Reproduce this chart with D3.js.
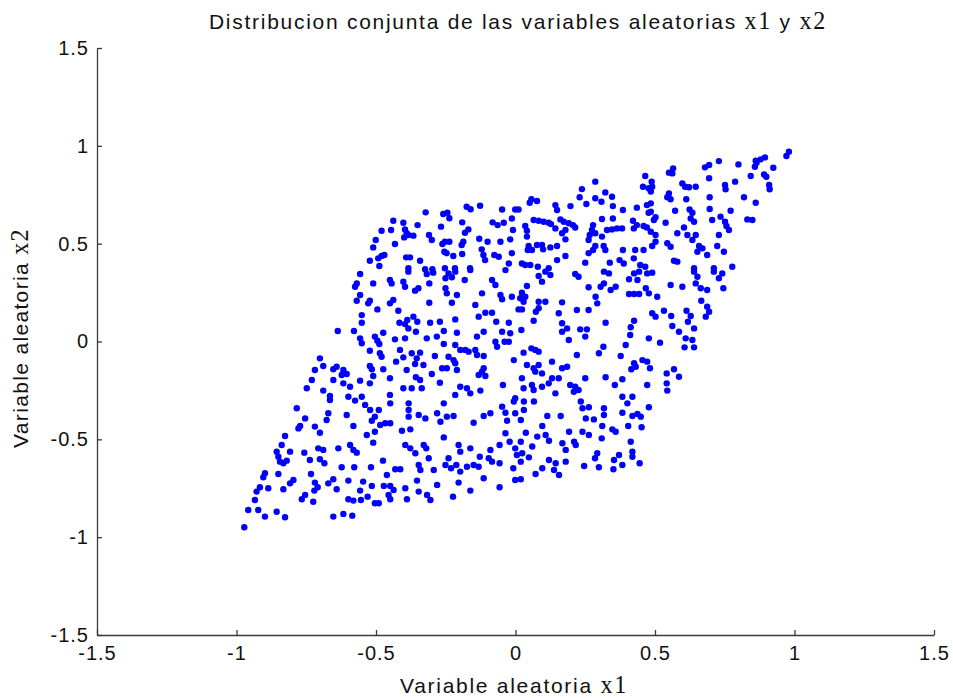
<!DOCTYPE html>
<html><head><meta charset="utf-8">
<script src="https://cdn.jsdelivr.net/npm/d3@7"></script>
<style>body{margin:0;background:#fff;} svg{display:block}</style>
</head><body><svg id="chart" width="953" height="698"></svg>
<script>
const titleParts = [["Distribucion conjunta de las variables aleatorias ","sans"],["x1","serif"],[" y ","sans"],["x2","serif"]];
const xLabelParts = [["Variable aleatoria ","sans"],["x1","serif"]];
const yLabelParts = [["Variable aleatoria ","sans"],["x2","serif"]];
const xTicks = [-1.5,-1,-0.5,0,0.5,1,1.5];
const yTicks = [-1.5,-1,-0.5,0,0.5,1,1.5];
const xTickLabels = ["-1.5","-1","-0.5","0","0.5","1","1.5"];
const yTickLabels = ["-1.5","-1","-0.5","0","0.5","1","1.5"];
// samples of (x1, x2)
const samples = [
[-0.127,0.694],[-0.175,0.689],[-0.161,0.676],[-0.322,0.660],[-0.259,0.652],[-0.244,0.658],[-0.237,0.630],[-0.438,0.617],[-0.402,0.607],[-0.191,0.609],[-0.082,0.609],[-0.351,0.595],[-0.480,0.566],[-0.446,0.570],[-0.396,0.573],[-0.390,0.553],[-0.267,0.587],[-0.169,0.573],[-0.181,0.556],[-0.310,0.544],[-0.300,0.519],[-0.366,0.541],[-0.399,0.532],[-0.384,0.544],[-0.501,0.519],[-0.432,0.498],[-0.253,0.510],[-0.237,0.510],[-0.262,0.498],[-0.187,0.510],[-0.193,0.493],[-0.130,0.525],[-0.100,0.510],[-0.510,0.481],[-0.121,0.471],[-0.115,0.442],[-0.109,0.416],[-0.076,0.442],[-0.255,0.459],[-0.247,0.451],[-0.223,0.437],[-0.191,0.447],[-0.480,0.437],[-0.470,0.442],[-0.492,0.425],[-0.392,0.430],[-0.378,0.430],[-0.342,0.413],[-0.522,0.413],[-0.488,0.386],[-0.384,0.374],[-0.324,0.369],[-0.298,0.369],[-0.253,0.374],[-0.217,0.374],[-0.163,0.374],
[0.286,0.817],[0.465,0.846],[0.457,0.791],[0.477,0.783],[0.238,0.779],[0.322,0.762],[0.346,0.740],[0.230,0.737],[0.254,0.703],[0.286,0.732],[0.308,0.714],[0.057,0.727],[0.051,0.709],[0.077,0.718],[0.143,0.697],[0.149,0.672],[0.197,0.692],[0.349,0.692],[0.385,0.672],[0.435,0.684],[0.471,0.697],[0.477,0.658],[-0.048,0.675],[-0.001,0.675],[0.011,0.675],[-0.013,0.629],[-0.042,0.607],[-0.064,0.595],[0.065,0.621],[0.083,0.617],[0.101,0.612],[0.119,0.607],[0.127,0.600],[0.161,0.624],[0.173,0.612],[0.191,0.604],[0.206,0.595],[0.214,0.583],[0.310,0.626],[0.349,0.629],[0.421,0.617],[0.435,0.595],[0.459,0.590],[0.035,0.590],[0.041,0.566],[0.143,0.578],[0.179,0.570],[0.167,0.553],[0.278,0.595],[0.274,0.570],[0.266,0.544],[0.286,0.553],[0.328,0.570],[0.346,0.573],[0.364,0.578],[0.382,0.578],[0.424,0.578],[0.471,0.583],[-0.009,0.570],[0.041,0.536],[0.179,0.522],[0.310,0.536],[0.262,0.519],[-0.054,0.510],[-0.019,0.522],[0.077,0.493],[0.095,0.493],[0.125,0.481],[0.149,0.488],[0.047,0.488],[0.044,0.468],[0.059,0.468],[0.286,0.488],[0.278,0.468],[0.262,0.451],[0.322,0.468],[0.316,0.488],[0.385,0.468],[0.429,0.468],[0.459,0.468],[0.099,0.471],[-0.013,0.451],[-0.060,0.433],[0.179,0.437],[0.149,0.416],[0.250,0.403],[0.338,0.403],[0.373,0.416],[0.388,0.399],[0.424,0.425],[0.023,0.399],[0.035,0.391],[0.053,0.391],[0.080,0.382],[-0.024,0.399],[0.447,0.391],[0.465,0.382],[0.119,0.374],
[0.980,0.970],[0.971,0.948],[0.894,0.941],[0.879,0.931],[0.861,0.924],[0.864,0.914],[0.858,0.893],[0.799,0.905],[0.729,0.922],[0.694,0.902],[0.679,0.890],[0.565,0.885],[0.550,0.863],[0.562,0.859],[0.924,0.888],[0.891,0.854],[0.899,0.842],[0.843,0.846],[0.694,0.834],[0.787,0.817],[0.751,0.800],[0.753,0.778],[0.909,0.800],[0.911,0.778],[0.488,0.817],[0.490,0.791],[0.485,0.766],[0.598,0.808],[0.608,0.791],[0.622,0.788],[0.646,0.791],[0.819,0.737],[0.861,0.709],[0.550,0.757],[0.544,0.737],[0.556,0.727],[0.696,0.737],[0.612,0.727],[0.696,0.677],[0.771,0.668],[0.572,0.668],[0.624,0.675],[0.634,0.658],[0.628,0.629],[0.640,0.612],[0.485,0.706],[0.485,0.663],[0.502,0.635],[0.496,0.621],[0.831,0.624],[0.849,0.621],[0.705,0.621],[0.735,0.638],[0.751,0.612],[0.756,0.590],[0.765,0.570],[0.538,0.607],[0.604,0.583],[0.485,0.561],[0.502,0.544],[0.580,0.553],[0.616,0.544],[0.646,0.544],[0.729,0.544],[0.502,0.510],[0.490,0.488],[0.544,0.502],[0.556,0.484],[0.634,0.519],[0.658,0.488],[0.652,0.459],[0.670,0.476],[0.723,0.488],[0.747,0.459],[0.687,0.442],[0.568,0.413],[0.580,0.408],[0.640,0.374],[0.711,0.374],[0.777,0.382],
[-0.557,0.345],[-0.384,0.357],[-0.450,0.314],[-0.444,0.297],[-0.402,0.306],[-0.396,0.280],[-0.318,0.345],[-0.295,0.352],[-0.309,0.297],[-0.510,0.297],[-0.569,0.297],[-0.575,0.280],[-0.348,0.272],[-0.360,0.260],[-0.557,0.238],[-0.569,0.208],[-0.522,0.208],[-0.528,0.195],[-0.438,0.212],[-0.450,0.195],[-0.309,0.198],[-0.495,0.164],[-0.420,0.157],[-0.551,0.135],[-0.551,0.096],[-0.366,0.127],[-0.388,0.110],[-0.352,0.101],[-0.396,0.089],[-0.416,0.096],[-0.306,0.096],[-0.271,0.101],[-0.384,0.067],[-0.357,0.050],[-0.637,0.054],[-0.579,0.054],[-0.474,0.045],[-0.557,0.016],[-0.551,-0.009],[-0.504,0.025],[-0.495,0.004],[-0.488,-0.013],[-0.432,0.011],[-0.396,0.016],[-0.318,0.016],[-0.282,0.025],[-0.522,-0.047],[-0.486,-0.060],[-0.480,-0.078],[-0.414,-0.043],[-0.402,-0.081],[-0.372,-0.060],[-0.354,-0.086],[-0.342,-0.057],[-0.330,-0.120],[-0.289,-0.074],[-0.701,-0.086],[-0.428,-0.103],[-0.719,-0.146],[-0.689,-0.125],[-0.653,-0.142],[-0.641,-0.129],[-0.617,-0.146],[-0.623,-0.171],[-0.605,-0.166],[-0.522,-0.125],[-0.515,-0.142],[-0.474,-0.142],[-0.360,-0.115],[-0.390,-0.146],[-0.730,-0.197],[-0.653,-0.197],[-0.617,-0.214],[-0.593,-0.231],[-0.557,-0.200],[-0.510,-0.176],[-0.450,-0.188],[-0.357,-0.183],[-0.342,-0.197],[-0.300,-0.166],[-0.522,-0.214],[-0.271,-0.211],[-0.748,-0.239],[-0.689,-0.251],[-0.665,-0.278],[-0.599,-0.282],[-0.551,-0.282],[-0.402,-0.239],[-0.372,-0.239],[-0.336,-0.239],[-0.450,-0.273],
[-0.240,0.348],[-0.216,0.357],[-0.251,0.323],[-0.228,0.328],[-0.162,0.365],[-0.036,0.365],[-0.084,0.314],[-0.072,0.289],[-0.182,0.314],[0.083,0.335],[0.107,0.357],[0.125,0.340],[0.095,0.306],[0.041,0.284],[0.214,0.345],[0.226,0.331],[0.262,0.277],[-0.120,0.246],[-0.054,0.238],[-0.048,0.216],[-0.013,0.229],[0.023,0.249],[0.017,0.221],[0.035,0.229],[0.029,0.203],[-0.210,0.238],[-0.228,0.198],[-0.251,0.272],[-0.246,0.246],[0.083,0.203],[0.107,0.203],[0.167,0.200],[-0.144,0.187],[0.011,0.164],[0.023,0.164],[0.083,0.170],[0.073,0.152],[0.220,0.161],[0.262,0.161],[-0.108,0.147],[-0.084,0.147],[-0.132,0.127],[0.155,0.144],[0.065,0.106],[-0.216,0.113],[-0.024,0.096],[-0.069,0.101],[0.167,0.093],[0.185,0.067],[0.167,0.050],[0.232,0.062],[0.256,0.062],[-0.257,0.054],[-0.210,0.045],[-0.114,0.050],[-0.138,0.025],[-0.048,0.050],[-0.019,0.042],[0.021,0.059],[0.191,0.008],[0.250,0.025],[-0.072,-0.001],[-0.066,-0.027],[-0.039,-0.001],[-0.024,-0.001],[-0.257,-0.013],[-0.216,-0.018],[-0.198,-0.043],[-0.180,-0.043],[-0.168,-0.052],[-0.144,-0.043],[-0.138,-0.069],[-0.114,-0.074],[0.057,-0.035],[0.071,-0.043],[0.083,-0.052],[0.029,-0.057],[0.220,-0.069],[-0.240,-0.078],[-0.222,-0.095],[-0.263,-0.137],[-0.246,-0.137],[-0.216,-0.111],[-0.006,-0.095],[0.041,-0.120],[0.065,-0.137],[0.083,-0.120],[0.131,-0.103],[0.185,-0.129],[0.167,-0.137],[-0.114,-0.137],[-0.120,-0.154],[-0.108,-0.176],[-0.132,-0.171],[-0.210,-0.146],[0.023,-0.188],[0.071,-0.154],[0.095,-0.163],[0.131,-0.188],[0.155,-0.188],[0.119,-0.214],[0.250,-0.188],[-0.045,-0.222],[-0.198,-0.231],[-0.174,-0.239],[-0.162,-0.265],[0.059,-0.222],[0.065,-0.248],[0.029,-0.239],[0.095,-0.231],[0.196,-0.222],[0.214,-0.231],[0.226,-0.248],[0.209,-0.257],[-0.126,-0.251],[-0.216,-0.273],[0.143,-0.265],[-0.001,-0.290],
[0.317,0.357],[0.335,0.348],[0.425,0.348],[0.443,0.357],[0.472,0.348],[0.490,0.352],[0.407,0.318],[0.437,0.314],[0.317,0.297],[0.305,0.280],[0.359,0.280],[0.341,0.263],[0.287,0.229],[0.293,0.195],[0.556,0.289],[0.598,0.280],[0.640,0.357],[0.652,0.331],[0.646,0.297],[0.664,0.272],[0.687,0.263],[0.711,0.357],[0.741,0.348],[0.729,0.323],[0.745,0.272],[0.407,0.243],[0.425,0.243],[0.443,0.243],[0.467,0.272],[0.478,0.246],[0.508,0.229],[0.666,0.208],[0.687,0.178],[0.694,0.152],[0.682,0.127],[0.490,0.144],[0.502,0.127],[0.532,0.157],[0.558,0.130],[0.613,0.157],[0.628,0.130],[0.618,0.101],[0.323,0.096],[0.425,0.106],[0.413,0.073],[0.411,0.033],[0.562,0.079],[0.586,0.050],[0.640,0.067],[0.610,0.016],[0.634,0.008],[0.606,-0.030],[0.640,-0.030],[0.478,0.016],[0.518,-0.006],[0.395,-0.018],[0.315,-0.027],[0.299,-0.060],[0.377,-0.074],[0.425,-0.111],[0.415,-0.142],[0.431,-0.129],[0.455,-0.095],[0.472,-0.103],[0.482,-0.137],[0.542,-0.163],[0.568,-0.142],[0.586,-0.180],[0.323,-0.183],[0.383,-0.193],[0.356,-0.222],[0.472,-0.222],[0.542,-0.214],[0.544,-0.251],[0.383,-0.282],[0.419,-0.282],
[-0.784,-0.341],[-0.754,-0.393],[-0.772,-0.432],[-0.778,-0.444],[-0.719,-0.435],[-0.701,-0.466],[-0.671,-0.367],[-0.677,-0.401],[-0.605,-0.376],[-0.581,-0.432],[-0.665,-0.299],[-0.575,-0.302],[-0.539,-0.324],[-0.521,-0.350],[-0.504,-0.384],[-0.515,-0.405],[-0.533,-0.478],[-0.504,-0.461],[-0.510,-0.517],[-0.826,-0.483],[-0.838,-0.529],[-0.856,-0.563],[-0.850,-0.589],[-0.832,-0.622],[-0.820,-0.609],[-0.844,-0.614],[-0.808,-0.563],[-0.757,-0.568],[-0.737,-0.606],[-0.707,-0.546],[-0.689,-0.554],[-0.701,-0.602],[-0.685,-0.622],[-0.635,-0.546],[-0.593,-0.529],[-0.581,-0.554],[-0.569,-0.568],[-0.898,-0.673],[-0.904,-0.694],[-0.850,-0.677],[-0.733,-0.677],[-0.796,-0.708],[-0.808,-0.725],[-0.623,-0.643],[-0.578,-0.643],[-0.518,-0.643],[-0.653,-0.704],[-0.671,-0.725],[-0.719,-0.721],[-0.709,-0.745],[-0.721,-0.762],[-0.599,-0.711],[-0.546,-0.716],[-0.515,-0.738],[-0.832,-0.755],[-0.641,-0.755],[-0.557,-0.762],[-0.916,-0.745],[-0.928,-0.767],[-0.886,-0.750],[-0.934,-0.810],[-0.754,-0.784],[-0.766,-0.806],[-0.725,-0.819],[-0.599,-0.806],[-0.581,-0.813],[-0.554,-0.810],[-0.530,-0.793],[-0.504,-0.827],[-0.958,-0.861],[-0.922,-0.861],[-0.856,-0.870],[-0.898,-0.895],[-0.826,-0.898],[-0.653,-0.895],[-0.617,-0.881],[-0.585,-0.890],[-0.972,-0.949],
[-0.490,-0.350],[-0.449,-0.316],[-0.383,-0.316],[-0.383,-0.350],[-0.383,-0.384],[-0.347,-0.376],[-0.323,-0.393],[-0.281,-0.367],[-0.257,-0.316],[-0.269,-0.410],[-0.246,-0.384],[-0.222,-0.381],[-0.467,-0.418],[-0.449,-0.418],[-0.485,-0.427],[-0.407,-0.456],[-0.377,-0.449],[-0.150,-0.415],[-0.114,-0.381],[-0.090,-0.367],[-0.048,-0.333],[-0.036,-0.364],[-0.030,-0.405],[-0.006,-0.307],[-0.001,-0.367],[-0.257,-0.490],[-0.036,-0.469],[-0.021,-0.512],[-0.395,-0.529],[-0.377,-0.546],[-0.359,-0.571],[-0.329,-0.529],[-0.320,-0.546],[-0.311,-0.597],[-0.204,-0.529],[-0.198,-0.563],[-0.162,-0.546],[-0.090,-0.554],[-0.057,-0.529],[-0.001,-0.546],[0.005,-0.580],[-0.475,-0.609],[-0.431,-0.653],[-0.413,-0.653],[-0.461,-0.682],[-0.347,-0.631],[-0.341,-0.657],[-0.293,-0.657],[-0.240,-0.597],[-0.251,-0.631],[-0.231,-0.648],[-0.212,-0.631],[-0.198,-0.665],[-0.174,-0.640],[-0.150,-0.631],[-0.132,-0.640],[-0.096,-0.597],[-0.084,-0.614],[-0.057,-0.622],[-0.128,-0.589],[-0.008,-0.648],[-0.114,-0.699],[-0.001,-0.708],[-0.353,-0.711],[-0.472,-0.738],[-0.449,-0.738],[-0.437,-0.759],[-0.455,-0.784],[-0.449,-0.806],[-0.395,-0.750],[-0.281,-0.733],[-0.204,-0.721],[-0.347,-0.767],[-0.317,-0.784],[-0.305,-0.810],[-0.389,-0.806],[-0.162,-0.762],[-0.057,-0.745],[-0.224,-0.793],[-0.490,-0.827],
[0.030,-0.307],[0.066,-0.307],[0.234,-0.307],[0.240,-0.341],[0.263,-0.336],[0.317,-0.341],[0.317,-0.376],[0.401,-0.316],[0.478,-0.336],[0.383,-0.364],[0.419,-0.381],[0.437,-0.370],[0.449,-0.384],[0.452,-0.438],[0.114,-0.381],[0.162,-0.381],[0.252,-0.393],[0.281,-0.398],[0.030,-0.350],[0.019,-0.401],[0.096,-0.432],[0.311,-0.432],[0.347,-0.449],[0.359,-0.461],[0.404,-0.432],[0.037,-0.466],[0.192,-0.461],[0.240,-0.461],[0.263,-0.478],[0.078,-0.486],[0.108,-0.478],[0.120,-0.507],[0.309,-0.495],[0.019,-0.512],[0.413,-0.512],[0.168,-0.520],[0.180,-0.554],[0.210,-0.512],[0.216,-0.529],[0.060,-0.537],[0.024,-0.571],[0.419,-0.563],[0.419,-0.589],[0.048,-0.592],[0.293,-0.571],[0.285,-0.597],[0.371,-0.580],[0.120,-0.606],[0.144,-0.622],[0.180,-0.614],[0.019,-0.614],[0.353,-0.606],[0.351,-0.653],[0.383,-0.631],[0.246,-0.636],[0.299,-0.643],[0.445,-0.622],[0.096,-0.648],[0.072,-0.677],[0.138,-0.657],[0.156,-0.682],[0.019,-0.704]
];
const x1 = samples.map(d => d[0]);
const x2 = samples.map(d => d[1]);

const svg = d3.select("#chart");
const x = d3.scaleLinear().domain([-1.5, 1.5]).range([97, 934]);
const y = d3.scaleLinear().domain([-1.5, 1.5]).range([635, 48]);
const SANS = "'Liberation Sans', Arial, sans-serif";
const SERIF = "'Liberation Serif', 'Times New Roman', serif";
const axisColor = "#3a3a3a";
const tickFont = 20;

// points
svg.append("g").selectAll("circle").data(x1).join("circle")
  .attr("cx", (d, i) => x(x1[i]))
  .attr("cy", (d, i) => y(x2[i]))
  .attr("r", 3.2)
  .attr("fill", "#0000ff");

const gx = svg.append("g").attr("transform", "translate(0,635)")
  .call(d3.axisBottom(x).tickValues(xTicks).tickFormat((d, i) => xTickLabels[i])
    .tickSizeInner(-5).tickSizeOuter(0).tickPadding(11));
const gy = svg.append("g").attr("transform", "translate(97,0)")
  .call(d3.axisLeft(y).tickValues(yTicks).tickFormat((d, i) => yTickLabels[i])
    .tickSizeInner(-5).tickSizeOuter(0).tickPadding(8));
[gx, gy].forEach(g => {
  g.select(".domain").attr("stroke", axisColor).attr("stroke-width", 1.3);
  g.selectAll(".tick line").attr("stroke", axisColor).attr("stroke-width", 1.3);
  g.selectAll(".tick text").attr("fill", "#111").style("font-family", SANS)
    .style("font-size", tickFont + "px").style("letter-spacing", "1px");
});

function mixedText(parent, parts, size, targetWidth) {
  const t = parent.append("text").attr("text-anchor", "middle").attr("fill", "#111")
    .attr("xml:space", "preserve").style("font-size", size + "px");
  parts.forEach(p => t.append("tspan").text(p[0])
    .style("font-family", p[1] === "serif" ? SERIF : SANS)
    .style("font-size", (p[1] === "serif" ? size * 1.15 : size) + "px"));
  const n = parts.reduce((a, p) => a + p[0].length, 0);
  const w = t.node().getComputedTextLength();
  if (targetWidth && n > 1) t.style("letter-spacing", ((targetWidth - w) / n) + "px");
  return t;
}
mixedText(svg, titleParts, 21, 618).attr("x", 518).attr("y", 29);
mixedText(svg, xLabelParts, 21, 228).attr("x", 514).attr("y", 693);
mixedText(svg, yLabelParts, 21, 220).attr("transform", "translate(28,338) rotate(-90)");
</script></body></html>
